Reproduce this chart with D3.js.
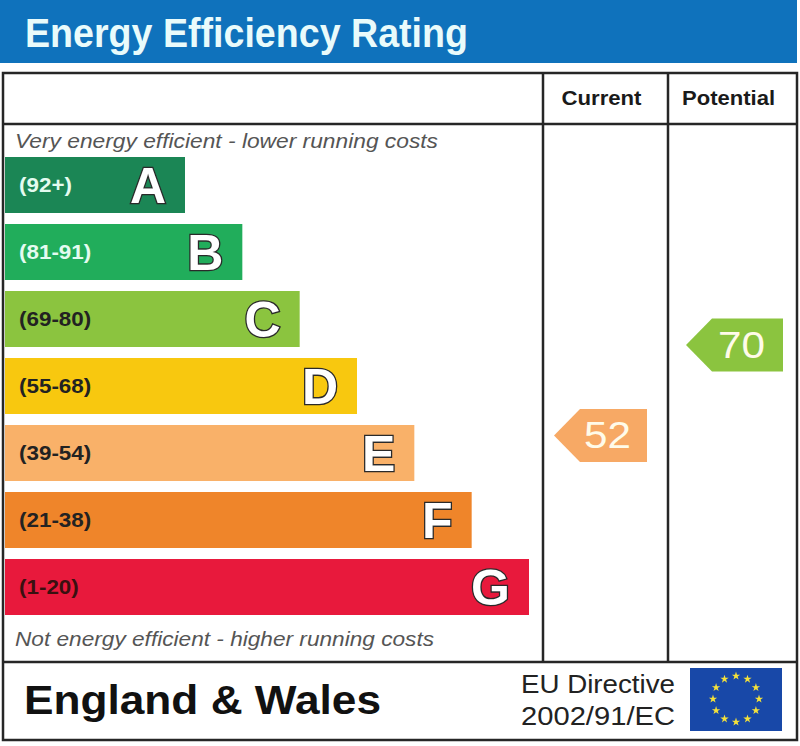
<!DOCTYPE html>
<html>
<head>
<meta charset="UTF-8">
<title>Energy Efficiency Rating</title>
<script src="https://cdn.jsdelivr.net/npm/d3@7"></script>
<style>
  body { margin: 0; background: #fff; }
  text { font-family: "Liberation Sans", Arial, sans-serif; }
</style>
</head>
<body>
<script>
// data
var bands = ['A', 'B', 'C', 'D', 'E', 'F', 'G'];
var ranges = ['(92+)', '(81-91)', '(69-80)', '(55-68)', '(39-54)', '(21-38)', '(1-20)'];
var bandTop = [100, 91, 80, 68, 54, 38, 20];
var bandBottom = [92, 81, 69, 55, 39, 21, 1];
var bandColors = ['#1b8655', '#21ad5b', '#8bc43f', '#f8c80f', '#f9b169', '#ef852a', '#e8193c'];
var labelColors = ['#e4fbf0', '#e4fbf0', '#222', '#222', '#222', '#222', '#3a1010'];
var columns = ['Current', 'Potential'];
var ratings = [52, 70];
var ratingColors = ['#f7a965', '#8bc43f'];

var W = 800, H = 746;
var svg = d3.select('body').append('svg')
  .attr('width', W).attr('height', H);

// stretch a text to a given width (the source image is a bit wide)
function stretch(sel, w) {
  sel.attr('textLength', w).attr('lengthAdjust', 'spacingAndGlyphs');
}

// header
svg.append('rect').attr('x', 0).attr('y', 0).attr('width', 797).attr('height', 63)
  .attr('fill', '#0f72bc');
svg.append('text').attr('x', 25).attr('y', 47)
  .attr('font-size', 41).attr('font-weight', 'bold').attr('fill', '#e9fbfb')
  .text('Energy Efficiency Rating')
  .call(stretch, 443);

// scales
var y = d3.scaleBand().domain(bands).range([157, 615]).paddingInner(11 / 67);
var xEnd = d3.scaleLinear().domain([0, 6]).range([185, 529]);

// value -> y position, piecewise through each band
var vDomain = [], vRange = [];
bands.forEach(function(b, i) {
  vDomain.push(bandTop[i]);
  vRange.push(y(b) + 3);
  vDomain.push(bandBottom[i]);
  vRange.push(y(b) + y.bandwidth() + 3);
});
var yVal = d3.scaleLinear().domain(vDomain).range(vRange);

var colLeft = { 'Current': 543, 'Potential': 668 };
var colRight = { 'Current': 668, 'Potential': 797 };

// frame
var frame = svg.append('g').attr('stroke', '#262626').attr('stroke-width', 2.5).attr('fill', 'none');
frame.append('rect').attr('x', 3).attr('y', 73).attr('width', 794).attr('height', 667);
frame.append('line').attr('x1', 3).attr('x2', 797).attr('y1', 124).attr('y2', 124);
frame.append('line').attr('x1', 3).attr('x2', 797).attr('y1', 662).attr('y2', 662);
columns.forEach(function(c) {
  frame.append('line').attr('x1', colLeft[c]).attr('x2', colLeft[c]).attr('y1', 73).attr('y2', 662);
});

// column headers
var headW = { 'Current': 80, 'Potential': 93 };
columns.forEach(function(c) {
  svg.append('text')
    .attr('x', (colLeft[c] + colRight[c]) / 2 - headW[c] / 2 - 4).attr('y', 105)
    .attr('font-size', 20).attr('font-weight', 'bold')
    .attr('fill', '#1a1a1a').text(c)
    .call(stretch, headW[c]);
});

// captions
svg.append('text').attr('x', 15).attr('y', 148).attr('font-size', 21)
  .attr('font-style', 'italic').attr('fill', '#555')
  .text('Very energy efficient - lower running costs')
  .call(stretch, 423);
svg.append('text').attr('x', 15).attr('y', 646).attr('font-size', 21)
  .attr('font-style', 'italic').attr('fill', '#555')
  .text('Not energy efficient - higher running costs')
  .call(stretch, 419);

// bars
var bar = svg.selectAll('g.band').data(bands).enter().append('g').attr('class', 'band');
bar.append('rect')
  .attr('x', 5)
  .attr('y', function(d) { return y(d); })
  .attr('width', function(d, i) { return xEnd(i) - 5; })
  .attr('height', y.bandwidth())
  .attr('fill', function(d, i) { return bandColors[i]; });
bar.append('text')
  .attr('x', 19)
  .attr('y', function(d) { return y(d) + y.bandwidth() / 2 + 7; })
  .attr('font-size', 20).attr('font-weight', 'bold')
  .attr('fill', function(d, i) { return labelColors[i]; })
  .text(function(d, i) { return ranges[i]; })
  .each(function() {
    var t = d3.select(this);
    t.call(stretch, this.getComputedTextLength() * 1.12);
  });
bar.append('text')
  .attr('x', function(d, i) { return xEnd(i) - 19; })
  .attr('y', function(d) { return y(d) + y.bandwidth() / 2 + 18; })
  .attr('text-anchor', 'end')
  .attr('font-size', 50).attr('font-weight', 'bold')
  .attr('fill', '#fff').attr('stroke', '#2a2a2a').attr('stroke-width', 2.6)
  .attr('paint-order', 'stroke')
  .text(function(d) { return d; });

// rating arrows
var ah = 53, tip = 26;
var arrowPad = { 'Current': [11, 21], 'Potential': [18, 14] };
columns.forEach(function(c, i) {
  var cy = yVal(ratings[i]);
  var x0 = colLeft[c] + arrowPad[c][0], x1 = colRight[c] - arrowPad[c][1];
  var pts = [[x0, cy], [x0 + tip, cy - ah / 2], [x1, cy - ah / 2], [x1, cy + ah / 2], [x0 + tip, cy + ah / 2]];
  svg.append('path')
    .attr('d', d3.line()(pts) + 'Z')
    .attr('fill', ratingColors[i]);
  svg.append('text')
    .attr('x', (x0 + tip + x1) / 2 - 6).attr('y', cy + 13)
    .attr('text-anchor', 'middle').attr('font-size', 37)
    .attr('fill', '#fffbe9').text(ratings[i])
    .call(stretch, 47);
});

// footer
svg.append('text').attr('x', 24).attr('y', 714)
  .attr('font-size', 40).attr('font-weight', 'bold').attr('fill', '#111')
  .text('England & Wales')
  .call(stretch, 357);
svg.append('text').attr('x', 521).attr('y', 693)
  .attr('font-size', 25).attr('fill', '#222').text('EU Directive')
  .call(stretch, 154);
svg.append('text').attr('x', 521).attr('y', 725)
  .attr('font-size', 25).attr('fill', '#222').text('2002/91/EC')
  .call(stretch, 154);

// EU flag
svg.append('rect').attr('x', 690).attr('y', 668).attr('width', 92).attr('height', 63)
  .attr('fill', '#1848a8');
var star = d3.symbol().type(d3.symbolStar).size(22);
d3.range(12).forEach(function(k) {
  var a = k * Math.PI / 6;
  svg.append('path').attr('d', star)
    .attr('transform', 'translate(' + (736 + 23 * Math.sin(a)) + ',' + (699 - 23 * Math.cos(a)) + ')')
    .attr('fill', '#f5e23a');
});
</script>
</body>
</html>
